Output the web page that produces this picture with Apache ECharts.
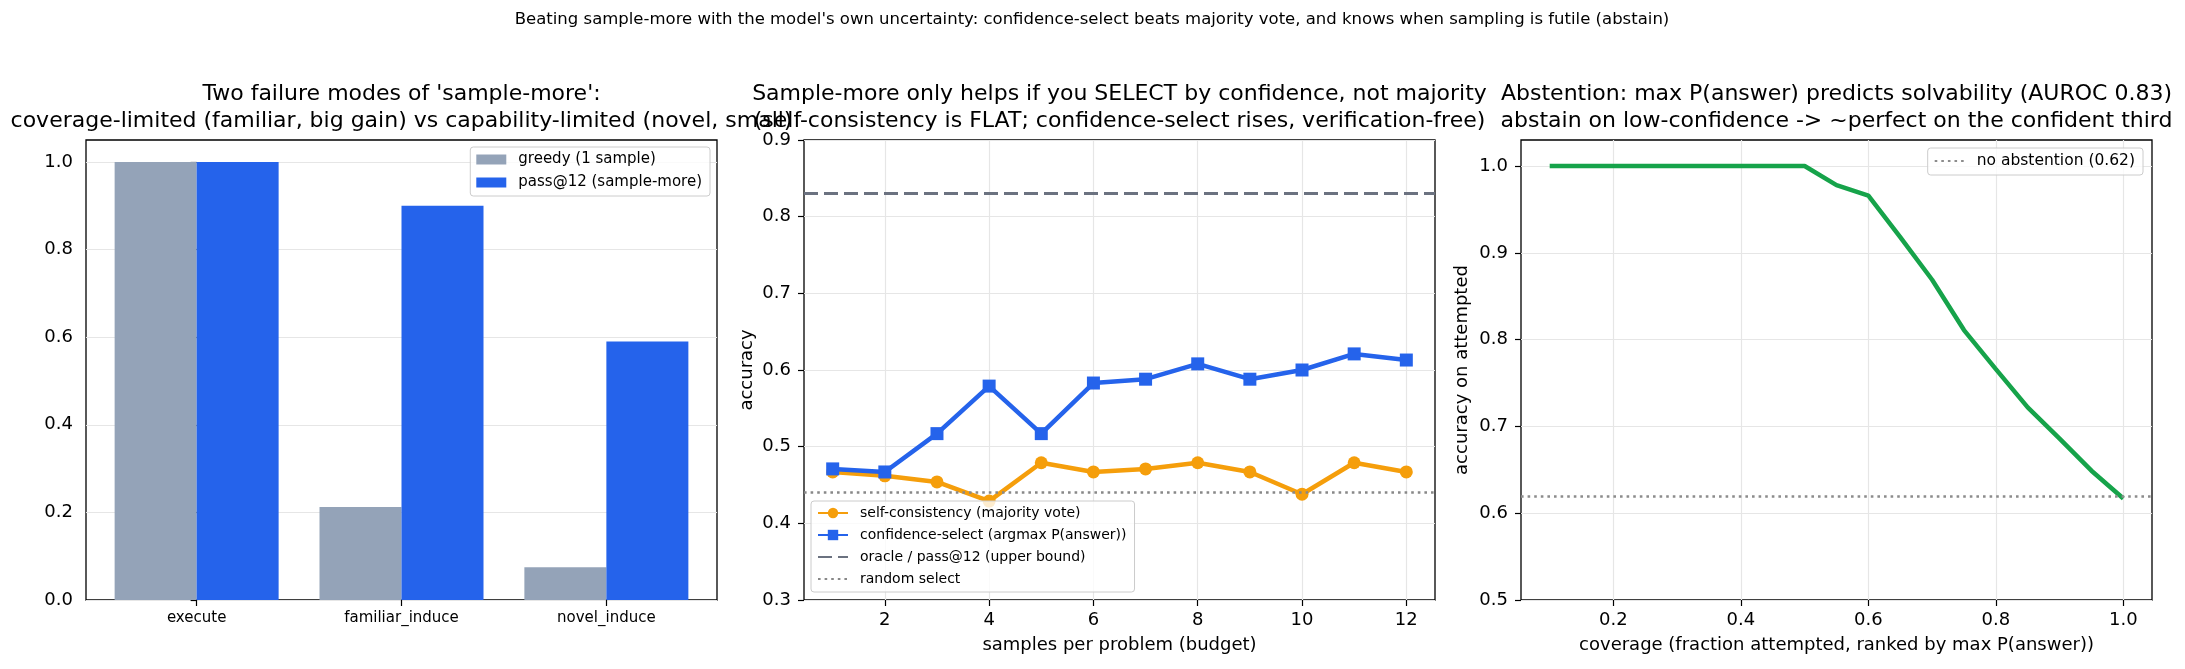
<!DOCTYPE html>
<html>
<head>
<meta charset="utf-8">
<script src="https://cdn.jsdelivr.net/npm/echarts@6/dist/echarts.min.js"></script>
<style>
  html, body { margin: 0; padding: 0; background: #fff; }
  #chart { width: 2185px; height: 669px; }
</style>
</head>
<body>
<div id="chart"></div>
<script>
// ---------- data ----------
const CATEGORIES = ['execute', 'familiar_induce', 'novel_induce'];
const GREEDY = [1.0, 0.212, 0.075];
const PASS12 = [1.0, 0.90, 0.59];

const BUDGET = [1, 2, 3, 4, 5, 6, 7, 8, 9, 10, 11, 12];
const SELF_CONSISTENCY = [0.467, 0.462, 0.454, 0.429, 0.479, 0.467, 0.471, 0.479, 0.467, 0.438, 0.479, 0.467];
const CONF_SELECT = [0.471, 0.467, 0.517, 0.579, 0.517, 0.583, 0.588, 0.608, 0.588, 0.600, 0.621, 0.613];
const ORACLE = 0.829;
const RANDOM_SELECT = 0.4375;

const COVERAGE = [0.10, 0.15, 0.20, 0.25, 0.30, 0.35, 0.40, 0.45, 0.50, 0.55, 0.60, 0.65, 0.70, 0.75, 0.80, 0.85, 0.90, 0.95, 1.00];
const ACC_ATTEMPTED = [1.0, 1.0, 1.0, 1.0, 1.0, 1.0, 1.0, 1.0, 1.0, 0.978, 0.966, 0.918, 0.869, 0.811, 0.766, 0.722, 0.686, 0.649, 0.617];
const NO_ABSTENTION = 0.617;

const LEFT_Y_TICKS = [0, 0.2, 0.4, 0.6, 0.8, 1.0];
const LEFT_X_TICKS = [0, 1, 2];
const MID_X_TICKS = [2, 4, 6, 8, 10, 12];
const MID_Y_TICKS = [0.3, 0.4, 0.5, 0.6, 0.7, 0.8, 0.9];
const RIGHT_X_TICKS = [0.2, 0.4, 0.6, 0.8, 1.0];
const RIGHT_Y_TICKS = [0.5, 0.6, 0.7, 0.8, 0.9, 1.0];

const SUPTITLE = "Beating sample-more with the model's own uncertainty: confidence-select beats majority vote, and knows when sampling is futile (abstain)";
const TITLE_LEFT = "Two failure modes of 'sample-more':\ncoverage-limited (familiar, big gain) vs capability-limited (novel, small)";
const TITLE_MID = "Sample-more only helps if you SELECT by confidence, not majority\n(self-consistency is FLAT; confidence-select rises, verification-free)";
const TITLE_RIGHT = "Abstention: max P(answer) predicts solvability (AUROC 0.83)\nabstain on low-confidence -> ~perfect on the confident third";

// ---------- style ----------
const FONT = 'DejaVu Sans';
const G = { top: 140, height: 460, width: 631 };
const GRID_LEFTS = [86, 804, 1521];
const GRID_LINE = { show: true, lineStyle: { color: '#e6e6e6', width: 1.2 } };
const TICK = (vals) => ({ show: true, customValues: vals, length: 6, lineStyle: { color: '#000', width: 1.2 } });
const LABEL = (vals, size, margin, fmt) => ({ customValues: vals, fontFamily: FONT, fontSize: size, color: '#000', margin: margin, formatter: fmt });
const f1 = v => Number(v).toFixed(1);
const NO_MARK = { opacity: 0 };

function titleAt(text, cx) {
  return {
    text: text, left: cx, top: 81, textAlign: 'center', padding: 0,
    textStyle: { fontFamily: FONT, fontSize: 22, fontWeight: 'normal', color: '#000', lineHeight: 27 }
  };
}

const option = {
  backgroundColor: '#fff',
  animation: false,
  title: [
    { text: SUPTITLE, left: 1092, top: 11, textAlign: 'center', padding: 0,
      textStyle: { fontFamily: FONT, fontSize: 16.5, fontWeight: 'normal', color: '#000' } },
    titleAt(TITLE_LEFT, GRID_LEFTS[0] + G.width / 2),
    titleAt(TITLE_MID, GRID_LEFTS[1] + G.width / 2),
    titleAt(TITLE_RIGHT, GRID_LEFTS[2] + G.width / 2)
  ],
  grid: GRID_LEFTS.map(l => ({
    left: l, top: G.top, width: G.width, height: G.height,
    show: true, borderColor: '#000', borderWidth: 1.3, backgroundColor: 'transparent', containLabel: false
  })),
  legend: [
    {
      data: ['greedy (1 sample)', 'pass@12 (sample-more)'],
      orient: 'vertical', right: 2185 - 710, top: 147, align: 'left',
      padding: [5, 8, 6, 6], itemWidth: 30, itemHeight: 10, itemGap: 8, icon: 'rect',
      backgroundColor: 'rgba(255,255,255,0.8)', borderColor: '#cccccc', borderWidth: 1, borderRadius: 3,
      textStyle: { fontFamily: FONT, fontSize: 15, color: '#000', lineHeight: 15, padding: [0, 0, 0, 7] }
    },
    {
      data: [
        'self-consistency (majority vote)',
        'confidence-select (argmax P(answer))',
        { name: 'oracle / pass@12 (upper bound)', itemStyle: NO_MARK },
        { name: 'random select', itemStyle: NO_MARK }
      ],
      orient: 'vertical', left: 811, top: 501, align: 'left',
      padding: [5, 8, 6, 6], itemWidth: 30, itemHeight: 13, itemGap: 8,
      backgroundColor: 'rgba(255,255,255,0.8)', borderColor: '#cccccc', borderWidth: 1, borderRadius: 3,
      textStyle: { fontFamily: FONT, fontSize: 14, color: '#000', lineHeight: 14, padding: [0, 0, 0, 7] }
    },
    {
      data: [{ name: 'no abstention (0.62)', itemStyle: NO_MARK }],
      orient: 'vertical', right: 2185 - 2143, top: 148, align: 'left',
      padding: [5, 8, 6, 6], itemWidth: 30, itemHeight: 10, itemGap: 8,
      backgroundColor: 'rgba(255,255,255,0.8)', borderColor: '#cccccc', borderWidth: 1, borderRadius: 3,
      textStyle: { fontFamily: FONT, fontSize: 15.5, color: '#000', lineHeight: 16, padding: [0, 0, 0, 7] }
    }
  ],
  xAxis: [
    {
      gridIndex: 0, type: 'value', min: -0.54, max: 2.54,
      axisLine: { show: false }, splitLine: { show: false },
      axisTick: TICK(LEFT_X_TICKS),
      axisLabel: LABEL(LEFT_X_TICKS, 15, 11, v => CATEGORIES[Math.round(v)] || '')
    },
    {
      gridIndex: 1, type: 'value', min: 0.45, max: 12.55,
      axisLine: { show: false }, splitLine: GRID_LINE,
      axisTick: TICK(MID_X_TICKS),
      axisLabel: LABEL(MID_X_TICKS, 18, 11, v => String(v)),
      name: 'samples per problem (budget)', nameLocation: 'middle', nameGap: 36,
      nameTextStyle: { fontFamily: FONT, fontSize: 18, color: '#000' }
    },
    {
      gridIndex: 2, type: 'value', min: 0.055, max: 1.045,
      axisLine: { show: false }, splitLine: GRID_LINE,
      axisTick: TICK(RIGHT_X_TICKS),
      axisLabel: LABEL(RIGHT_X_TICKS, 18, 11, f1),
      name: 'coverage (fraction attempted, ranked by max P(answer))', nameLocation: 'middle', nameGap: 36,
      nameTextStyle: { fontFamily: FONT, fontSize: 18, color: '#000' }
    }
  ],
  yAxis: [
    {
      gridIndex: 0, type: 'value', min: 0, max: 1.05,
      axisLine: { show: false }, splitLine: GRID_LINE,
      axisTick: TICK(LEFT_Y_TICKS),
      axisLabel: LABEL(LEFT_Y_TICKS, 18, 13, f1)
    },
    {
      gridIndex: 1, type: 'value', min: 0.3, max: 0.9, interval: 0.1,
      axisLine: { show: false }, splitLine: GRID_LINE,
      axisTick: TICK(MID_Y_TICKS),
      axisLabel: LABEL(MID_Y_TICKS, 18, 13, f1),
      name: 'accuracy', nameLocation: 'middle', nameGap: 48,
      nameTextStyle: { fontFamily: FONT, fontSize: 18, color: '#000' }
    },
    {
      gridIndex: 2, type: 'value', min: 0.5, max: 1.03,
      axisLine: { show: false }, splitLine: GRID_LINE,
      axisTick: TICK(RIGHT_Y_TICKS),
      axisLabel: LABEL(RIGHT_Y_TICKS, 18, 13, f1),
      name: 'accuracy on attempted', nameLocation: 'middle', nameGap: 50,
      nameTextStyle: { fontFamily: FONT, fontSize: 18, color: '#000' }
    }
  ],
  series: [
    {
      name: 'greedy (1 sample)', type: 'bar', xAxisIndex: 0, yAxisIndex: 0,
      data: CATEGORIES.map((c, i) => [i, GREEDY[i]]),
      barWidth: 82, barGap: '0%', itemStyle: { color: '#94a3b8' }
    },
    {
      name: 'pass@12 (sample-more)', type: 'bar', xAxisIndex: 0, yAxisIndex: 0,
      data: CATEGORIES.map((c, i) => [i, PASS12[i]]),
      barWidth: 82, barGap: '0%', itemStyle: { color: '#2563eb' }
    },
    {
      name: 'oracle / pass@12 (upper bound)', type: 'line', xAxisIndex: 1, yAxisIndex: 1,
      data: [], symbol: 'none',
      lineStyle: { color: '#6b7280', width: 3, type: [14, 6] }, itemStyle: { color: '#6b7280' },
      markLine: { silent: true, symbol: 'none', label: { show: false },
        lineStyle: { color: '#6b7280', width: 3, type: [14, 6] }, data: [{ yAxis: ORACLE }] }
    },
    {
      name: 'random select', type: 'line', xAxisIndex: 1, yAxisIndex: 1,
      data: [], symbol: 'none',
      lineStyle: { color: '#888888', width: 2.6, type: [2.6, 4] }, itemStyle: { color: '#888888' },
      markLine: { silent: true, symbol: 'none', label: { show: false },
        lineStyle: { color: '#888888', width: 2.6, type: [2.6, 4] }, data: [{ yAxis: RANDOM_SELECT }] }
    },
    {
      name: 'self-consistency (majority vote)', type: 'line', xAxisIndex: 1, yAxisIndex: 1,
      data: BUDGET.map((b, i) => [b, SELF_CONSISTENCY[i]]),
      symbol: 'circle', symbolSize: 13, z: 3,
      lineStyle: { color: '#f59e0b', width: 4.5 }, itemStyle: { color: '#f59e0b' }
    },
    {
      name: 'confidence-select (argmax P(answer))', type: 'line', xAxisIndex: 1, yAxisIndex: 1,
      data: BUDGET.map((b, i) => [b, CONF_SELECT[i]]),
      symbol: 'rect', symbolSize: 13, z: 4,
      lineStyle: { color: '#2563eb', width: 4.5 }, itemStyle: { color: '#2563eb' }
    },
    {
      name: 'no abstention (0.62)', type: 'line', xAxisIndex: 2, yAxisIndex: 2,
      data: [], symbol: 'none',
      lineStyle: { color: '#8c8c8c', width: 2.6, type: [2.6, 4] }, itemStyle: { color: '#8c8c8c' },
      markLine: { silent: true, symbol: 'none', label: { show: false },
        lineStyle: { color: '#8c8c8c', width: 2.6, type: [2.6, 4] }, data: [{ yAxis: NO_ABSTENTION }] }
    },
    {
      name: 'accuracy on attempted', type: 'line', xAxisIndex: 2, yAxisIndex: 2,
      data: COVERAGE.map((c, i) => [c, ACC_ATTEMPTED[i]]),
      symbol: 'none', z: 4,
      lineStyle: { color: '#16a34a', width: 4.5 }
    }
  ]
};

const chart = echarts.init(document.getElementById('chart'));
chart.setOption(option);
</script>
</body>
</html>
